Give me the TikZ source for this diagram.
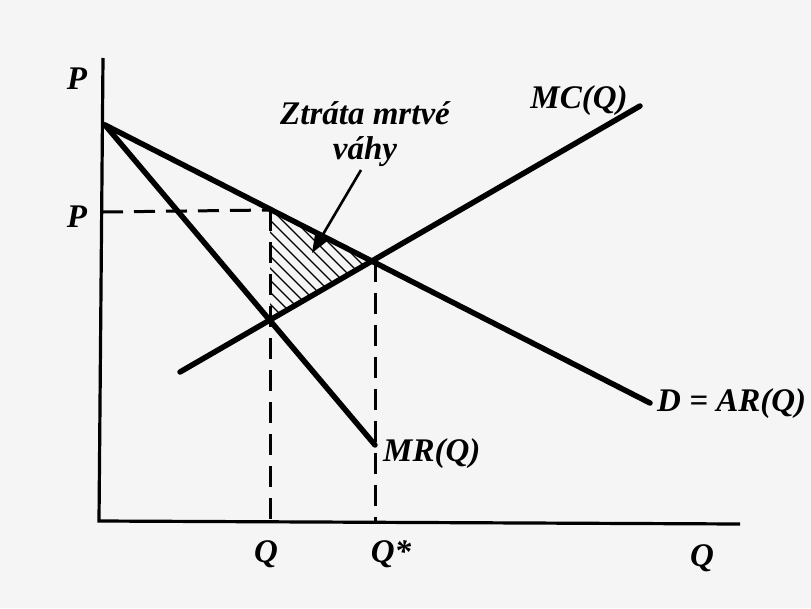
\documentclass[tikz,border=0pt]{standalone}
\usepackage{fontspec}
\setmainfont{Liberation Serif}
\usetikzlibrary{arrows.meta}
\begin{document}
\begin{tikzpicture}[x=1pt,y=-1pt,
  lbl/.style={font=\fontsize{33}{35}\selectfont\bfseries\itshape, inner sep=0pt},
  curve/.style={line width=5.5pt},
  axis/.style={line width=3.2pt},
  guide/.style={line width=3pt, dash pattern=on 21pt off 11pt},
  hatch/.style={line width=1.4pt}]
\fill[black!4] (0,0) rectangle (811,608);
\useasboundingbox (0,0) rectangle (811,608);
% key points
\coordinate (top) at (103,58);
\coordinate (O) at (99,521);
\coordinate (xend) at (740,524);
\coordinate (A) at (105,125);
\coordinate (Dend) at (650,403);
\coordinate (MRend) at (375,445);
\coordinate (MCa) at (180,372);
\coordinate (MCb) at (640,106);
\coordinate (Pm) at (270,210);
\coordinate (E) at (375,261);
\coordinate (F) at (270,320);
\coordinate (Py) at (102,212);
\coordinate (Qb) at (270,521);
\coordinate (Qsb) at (375,522);
% hatching
\begin{scope}
  \clip (Pm) -- (E) -- (F) -- cycle;
  \foreach \c in {-170,-158,...,60} {
    \draw[hatch] (250,{250+\c}) -- (400,{400+\c});
  }
\end{scope}
% axes
\draw[axis] (top) -- (O) -- (xend);
% guides
\draw[guide] (Py) -- (Pm);
\draw[guide] (Pm) -- (Qb);
\draw[guide] (E) -- (Qsb);
% curves
\draw[curve, line cap=round] (A) -- (Dend);
\draw[curve, line cap=round] (A) -- (MRend);
\draw[curve, line cap=round] (MCa) -- (MCb);
% labels
\node[lbl] (lP) at (77,79) {P};
\node[lbl] (lPm) at (77,217) {P};
\node[lbl] (lMC) at (579,101) {MC(Q)};
\node[lbl, anchor=west] (lD) at (657,404) {D = AR(Q)};
\node[lbl, anchor=west] (lMR) at (383,454) {MR(Q)};
\node[lbl] (lQ) at (266,554) {Q};
\node[lbl] (lQs) at (391,554) {Q*};
\node[lbl] (lQx) at (702,558) {Q};
\node[lbl, align=center] (lZ) at (365,134) {Ztráta mrtvé\\váhy};
\coordinate (tip) at (312,253);
\draw[line width=2.6pt, -{Triangle[length=20pt,width=15pt]}] (361,170) -- (tip);
\end{tikzpicture}
\end{document}
